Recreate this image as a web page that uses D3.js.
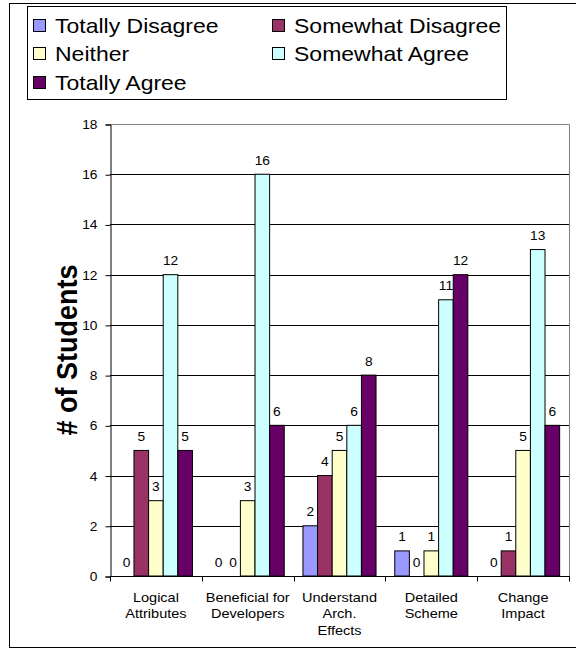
<!DOCTYPE html>
<html>
<head>
<meta charset="utf-8">
<script src="https://cdn.jsdelivr.net/npm/d3@7"></script>
<style>
  html, body { margin: 0; padding: 0; background: #fff; }
  svg { display: block; }
  svg text { font-family: "Liberation Sans", Arial, sans-serif; }
</style>
</head>
<body>
<svg id="chart" width="576" height="650"></svg>
<script>
// ── Data ──
var categories = ['Logical Attributes', 'Beneficial for Developers', 'Understand Arch. Effects', 'Detailed Scheme', 'Change Impact'];
var categoryLines = [['Logical', 'Attributes'], ['Beneficial for', 'Developers'], ['Understand', 'Arch.', 'Effects'], ['Detailed', 'Scheme'], ['Change', 'Impact']];
var seriesNames = ['Totally Disagree', 'Somewhat Disagree', 'Neither', 'Somewhat Agree', 'Totally Agree'];
var totallyDisagree = [0, 0, 2, 1, 0];
var somewhatDisagree = [5, 0, 4, 0, 1];
var neither = [3, 3, 5, 1, 5];
var somewhatAgree = [12, 16, 6, 11, 13];
var totallyAgree = [5, 6, 8, 12, 6];
var yTicks = [0, 2, 4, 6, 8, 10, 12, 14, 16, 18];
var seriesValues = [totallyDisagree, somewhatDisagree, neither, somewhatAgree, totallyAgree];
var colors = ['#9999FF', '#993366', '#FFFFCC', '#CCFFFF', '#660066'];

(function () {
  'use strict';
  var svg = d3.select('#chart');
  var left = 110, right = 569, top = 124, bottom = 576;
  var sx = 1.1; // the original text is a bit wider than plain Arial

  function place(sel, xf, yf, s) {
    s = s || sx;
    sel.attr('transform', function (d, i) { return 'translate(' + xf(d, i) + ',' + yf(d, i) + ') scale(' + s + ',1)'; });
  }

  // outer frame
  svg.append('rect').attr('x', 9.5).attr('y', 3.5).attr('width', 580).attr('height', 644)
    .attr('fill', 'none').attr('stroke', '#000').attr('stroke-width', 1);

  var x0 = d3.scaleBand().domain(categories).range([left, right]);
  var x1 = d3.scaleBand().domain(seriesNames).range([0, x0.bandwidth()]).paddingOuter(0.64);
  var y = d3.scaleLinear().domain([0, 18]).range([bottom, top]);

  // gridlines
  svg.append('g').selectAll('line').data(yTicks.filter(function (d) { return d > 0 && d < 18; })).join('line')
    .attr('x1', left).attr('x2', right)
    .attr('y1', function (d) { return Math.round(y(d)) + 0.5; })
    .attr('y2', function (d) { return Math.round(y(d)) + 0.5; })
    .attr('stroke', '#000').attr('stroke-width', 1);

  // plot border top/right
  svg.append('path')
    .attr('d', 'M' + left + ',' + (top + 0.5) + 'H' + (right + 0.5) + 'V' + bottom)
    .attr('fill', 'none').attr('stroke', '#808080').attr('stroke-width', 1);

  // bars + value labels
  seriesNames.forEach(function (name, si) {
    var g = svg.append('g');
    var vals = seriesValues[si];
    g.selectAll('rect').data(vals).join('rect')
      .attr('x', function (d, i) { return x0(categories[i]) + x1(name); })
      .attr('y', function (d) { return y(d); })
      .attr('width', x1.bandwidth())
      .attr('height', function (d) { return y(0) - y(d); })
      .attr('fill', colors[si])
      .attr('stroke', function (d) { return d > 0 ? '#000' : 'none'; })
      .attr('stroke-width', 1);
    var t = g.selectAll('text').data(vals).join('text')
      .attr('text-anchor', 'middle').attr('font-size', 12.5).attr('fill', '#000')
      .text(function (d) { return d; });
    place(t, function (d, i) { return x0(categories[i]) + x1(name) + x1.bandwidth() / 2; },
      function (d) { return y(d) - 9.5; });
  });

  // y axis
  var yg = svg.append('g').attr('transform', 'translate(' + (left + 0.5) + ',0.5)')
    .call(d3.axisLeft(y).tickValues(yTicks).tickSize(5).tickPadding(8));
  yg.select('.domain').attr('stroke', '#000');
  yg.selectAll('.tick line').attr('stroke', '#000');
  yg.selectAll('.tick text').attr('font-size', 12.5).attr('font-family', '"Liberation Sans", Arial, sans-serif')
    .attr('fill', '#000').attr('transform', 'scale(' + sx + ',1)').attr('x', -13 / sx);

  // x axis
  var xg = svg.append('g').attr('transform', 'translate(0,' + (bottom + 0.5) + ')');
  xg.append('line').attr('x1', left).attr('x2', right + 1).attr('y1', 0).attr('y2', 0).attr('stroke', '#000');
  var bounds = categories.map(function (c) { return x0(c); }).concat([right]);
  xg.selectAll('line.tk').data(bounds).join('line').attr('class', 'tk')
    .attr('x1', function (d) { return Math.round(d) + 0.5; }).attr('x2', function (d) { return Math.round(d) + 0.5; })
    .attr('y1', 0).attr('y2', 5).attr('stroke', '#000');
  var lbl = xg.selectAll('text').data(categories).join('text')
    .attr('text-anchor', 'middle').attr('font-size', 13.2).attr('fill', '#000');
  place(lbl, function (c) { return x0(c) + x0.bandwidth() / 2; }, function () { return 25; });
  lbl.each(function (c, i) {
    d3.select(this).selectAll('tspan').data(categoryLines[i]).join('tspan')
      .attr('x', 0).attr('y', function (d, j) { return j * 16.7; }).text(function (d) { return d; });
  });

  // y title
  svg.append('text')
    .attr('transform', 'translate(77,' + ((top + bottom) / 2) + ') rotate(-90) scale(1,' + sx + ')')
    .attr('text-anchor', 'middle').attr('font-size', 27).attr('font-weight', 'bold').attr('fill', '#000')
    .text('# of Students');

  // legend
  var lg = svg.append('g');
  lg.append('rect').attr('x', 27.5).attr('y', 6.5).attr('width', 479).attr('height', 93)
    .attr('fill', '#fff').attr('stroke', '#000');
  var pos = [[33, 25], [272, 25], [33, 53], [272, 53], [33, 82]];
  var items = lg.selectAll('g').data(seriesNames).join('g')
    .attr('transform', function (d, i) { return 'translate(' + pos[i][0] + ',' + pos[i][1] + ')'; });
  items.append('rect').attr('x', 0.5).attr('y', -5.5).attr('width', 12).attr('height', 12)
    .attr('fill', function (d, i) { return colors[i]; }).attr('stroke', '#000');
  var lt = items.append('text').attr('font-size', 20).attr('fill', '#000')
    .text(function (d) { return d; });
  place(lt, function () { return 22; }, function () { return 7.5; }, 1.15);
})();
</script>
</body>
</html>
